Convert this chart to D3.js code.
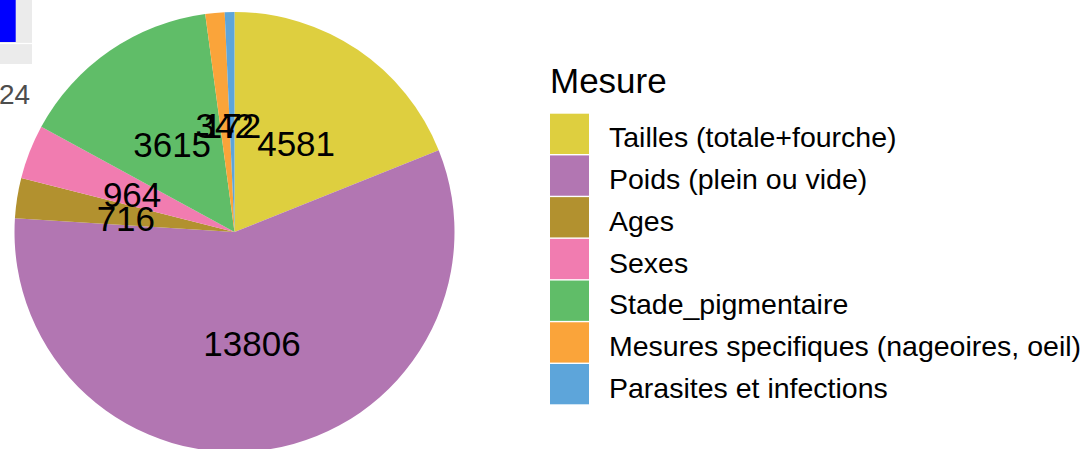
<!DOCTYPE html>
<html>
<head>
<meta charset="utf-8">
<script src="https://cdn.jsdelivr.net/npm/d3@7"></script>
<style>
  body { margin: 0; background: #ffffff; }
  svg { display: block; font-family: "Liberation Sans", Arial, sans-serif; }
</style>
</head>
<body>
<div id="chart"></div>
<script>
// Data
var categories = ["Tailles (totale+fourche)", "Poids (plein ou vide)", "Ages", "Sexes",
                  "Stade_pigmentaire", "Mesures specifiques (nageoires, oeil)", "Parasites et infections"];
var counts = [4581, 13806, 716, 964, 3615, 342, 172];
var colors = ["#DECF3F", "#B276B2", "#B2912F", "#F17CB0", "#60BD68", "#FAA43A", "#5DA5DA"];
var legendTitle = "Mesure";

// left-over piece of the neighbouring panel
var neighbourBars = [1];
var neighbourTick = "24";

var width = 1091, height = 449;
var cx = 234.5, cy = 232, radius = 220;

var svg = d3.select("#chart")
    .append("svg")
    .attr("width", width)
    .attr("height", height);

// neighbouring panel fragment (top-left)
var nb = svg.append("g").attr("id", "neighbour");
nb.append("rect")
    .attr("x", 0).attr("y", 0)
    .attr("width", 32).attr("height", 64)
    .attr("fill", "#EBEBEB");
nb.append("line")
    .attr("x1", 0).attr("x2", 32)
    .attr("y1", 43.5).attr("y2", 43.5)
    .attr("stroke", "#ffffff")
    .attr("stroke-width", 1.2);
var nbScale = d3.scaleLinear().domain([0, 1]).range([0, 15.7]);
nb.selectAll("rect.bar")
    .data(neighbourBars)
    .enter()
    .append("rect")
    .attr("class", "bar")
    .attr("x", 0).attr("y", 0)
    .attr("width", function(d) { return nbScale(d); })
    .attr("height", 42)
    .attr("fill", "#0000FF");
nb.append("text")
    .attr("x", -1).attr("y", 104)
    .attr("font-size", 28)
    .attr("fill", "#4D4D4D")
    .text(neighbourTick);

// Pie
var pie = d3.pie().sort(null).value(function(d) { return d; });
var arcs = pie(counts);

var arc = d3.arc().innerRadius(0).outerRadius(radius);
var labelArc = d3.arc().innerRadius(radius / 2).outerRadius(radius / 2);

var g = svg.append("g").attr("transform", "translate(" + cx + "," + cy + ")");

g.selectAll("path")
    .data(arcs)
    .enter()
    .append("path")
    .attr("d", arc)
    .attr("fill", function(d, i) { return colors[i]; });

g.selectAll("text")
    .data(arcs)
    .enter()
    .append("text")
    .attr("x", function(d) { return labelArc.centroid(d)[0]; })
    .attr("y", function(d) { return labelArc.centroid(d)[1]; })
    .attr("dy", 15.5)
    .attr("text-anchor", "middle")
    .attr("font-size", 35)
    .attr("fill", "#000000")
    .text(function(d) { return d.data; });

// Legend
var legend = svg.append("g").attr("id", "legend");
legend.append("text")
    .attr("x", 550).attr("y", 93)
    .attr("font-size", 35)
    .attr("fill", "#000000")
    .text(legendTitle);

var rowScale = d3.scaleBand()
    .domain(categories)
    .range([113, 405]);

var rows = legend.selectAll("g.row")
    .data(categories)
    .enter()
    .append("g")
    .attr("class", "row");

rows.append("rect")
    .attr("x", 550)
    .attr("y", function(d) { return rowScale(d) + 0.7; })
    .attr("width", 39)
    .attr("height", rowScale.bandwidth() - 1.4)
    .attr("fill", function(d, i) { return colors[i]; });

rows.append("text")
    .attr("x", 609)
    .attr("y", function(d) { return rowScale(d) + rowScale.bandwidth() / 2 + 13.5; })
    .attr("font-size", 28.5)
    .attr("fill", "#000000")
    .text(function(d) { return d; });
</script>
</body>
</html>
